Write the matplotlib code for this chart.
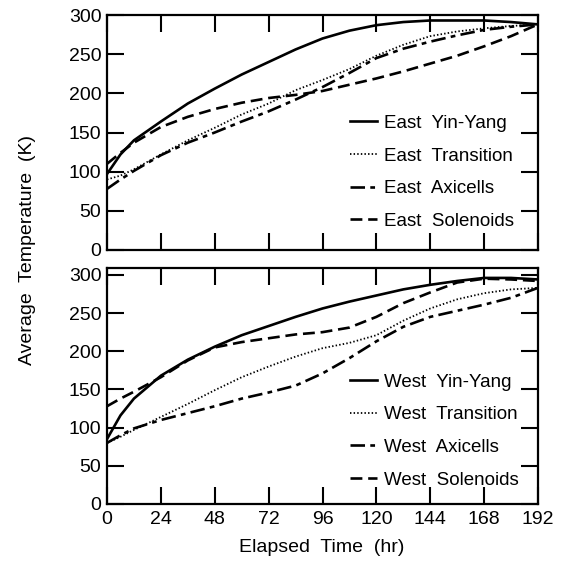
import matplotlib
matplotlib.use("Agg")
import matplotlib.pyplot as plt

plt.rcParams['font.family'] = ['Liberation Sans', 'DejaVu Sans']

# ---- data ----
time_hr = [0, 6, 12, 24, 36, 48, 60, 72, 84, 96, 108, 120, 132, 144, 156, 168, 180, 192]

east_yinyang    = [97, 122, 140, 164, 187, 206, 224, 240, 256, 270, 280, 287, 291, 293, 293, 293, 291, 288]
east_transition = [90, 95, 103, 122, 140, 156, 173, 187, 204, 217, 231, 248, 262, 273, 279, 283, 286, 288]
east_axicells   = [78, 90, 101, 121, 137, 150, 164, 177, 192, 208, 226, 245, 257, 266, 274, 281, 285, 288]
east_solenoids  = [110, 124, 137, 157, 170, 180, 188, 194, 198, 203, 211, 219, 228, 238, 248, 260, 273, 288]

west_yinyang    = [85, 116, 138, 168, 189, 206, 221, 233, 245, 256, 265, 273, 281, 287, 292, 296, 296, 294]
west_transition = [80, 88, 97, 114, 131, 149, 166, 180, 193, 204, 211, 221, 240, 256, 268, 276, 281, 283]
west_axicells   = [80, 90, 99, 110, 119, 128, 138, 146, 155, 171, 191, 213, 232, 245, 253, 261, 270, 283]
west_solenoids  = [128, 138, 147, 166, 188, 205, 212, 217, 222, 225, 231, 245, 263, 277, 290, 295, 294, 292]

x_ticks = [0, 24, 48, 72, 96, 120, 144, 168, 192]
y_ticks = [0, 50, 100, 150, 200, 250, 300]

east_labels = ["East  Yin-Yang", "East  Transition", "East  Axicells", "East  Solenoids"]
west_labels = ["West  Yin-Yang", "West  Transition", "West  Axicells", "West  Solenoids"]

# ---- styles ----
LW = 1.9
styles = [
    dict(linestyle='-', linewidth=LW),
    dict(linestyle=(0, (0.8, 1.2)), linewidth=1.3),
    dict(linestyle=(0, (5.5, 2.0, 1.8, 2.0)), linewidth=LW),
    dict(linestyle=(0, (4.5, 2.2)), linewidth=LW),
]

W, H = 562, 566
fig = plt.figure(figsize=(W / 100, H / 100), dpi=100)

def px_axes(left, right, top, bottom):
    return fig.add_axes([left / W, 1 - bottom / H, (right - left) / W, (bottom - top) / H])

ax1 = px_axes(107, 538, 15, 250)
ax2 = px_axes(107, 538, 268, 504)

FS = 14

def style_axes(ax, ytop, show_x):
    ax.set_xlim(0, 192)
    ax.set_ylim(0, ytop)
    ax.set_xticks(x_ticks)
    ax.set_yticks(y_ticks)
    ax.tick_params(direction='in', length=12, width=1.5, top=True, right=True,
                   labelsize=FS, pad=4, colors='black')
    ax.tick_params(axis='x', labelbottom=show_x, pad=5)
    for s in ax.spines.values():
        s.set_linewidth(1.6)

series_e = [east_yinyang, east_transition, east_axicells, east_solenoids]
series_w = [west_yinyang, west_transition, west_axicells, west_solenoids]

for vals, lab, st in zip(series_e, east_labels, styles):
    ax1.plot(time_hr, vals, color='black', label=lab, **st)
for vals, lab, st in zip(series_w, west_labels, styles):
    ax2.plot(time_hr, vals, color='black', label=lab, **st)

style_axes(ax1, 300, False)
style_axes(ax2, 309, True)

leg_kw = dict(frameon=False, fontsize=13.5, handlelength=1.45, handletextpad=0.35,
              labelspacing=0.83, borderpad=0, borderaxespad=0, loc='lower left')
ax1.legend(bbox_to_anchor=(0.564, 0.085), **leg_kw)
ax2.legend(bbox_to_anchor=(0.564, 0.065), **leg_kw)

fig.text(28 / W, 1 - 250 / H, "Average  Temperature  (K)", rotation=90,
         ha='center', va='center', fontsize=FS)
fig.text(322 / W, 1 - 548 / H, "Elapsed  Time  (hr)", ha='center', va='center', fontsize=FS)

fig.savefig("out.png", dpi=100)
